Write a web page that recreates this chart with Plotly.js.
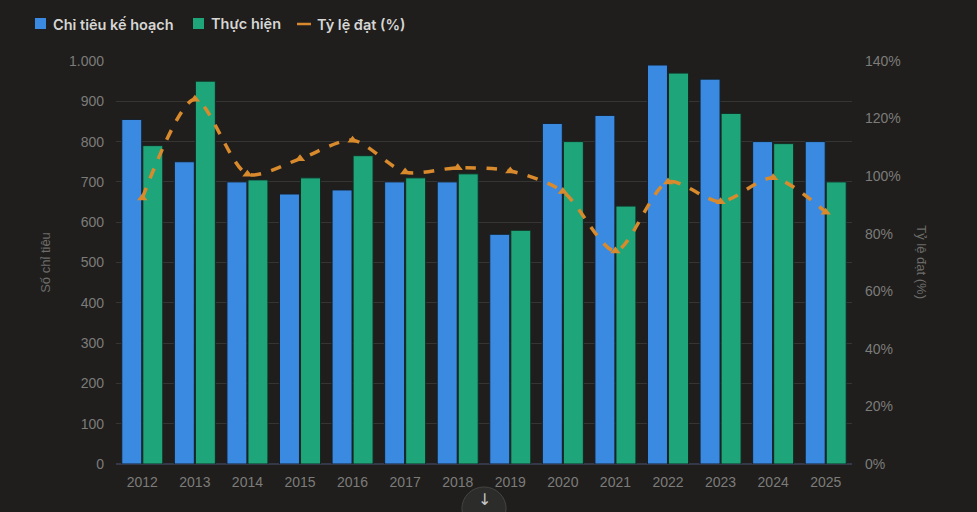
<!DOCTYPE html>
<html>
<head>
<meta charset="utf-8">
<script src="https://cdn.plot.ly/plotly-3.0.1.min.js"></script>
<style>
html,body{margin:0;padding:0;background:#1f1e1c;}
#chart{width:977px;height:512px;}
</style>
</head>
<body>
<div id="chart"></div>
<script>
const years = ['2012','2013','2014','2015','2016','2017','2018','2019','2020','2021','2022','2023','2024','2025'];
const planned = [855, 750, 700, 670, 680, 700, 700, 570, 845, 865, 990, 955, 800, 800];
const actual = [790, 950, 705, 710, 765, 710, 720, 580, 800, 640, 970, 870, 795, 700];
const ratePct = [92.4, 126.7, 100.7, 106.0, 112.5, 101.4, 102.9, 101.8, 94.7, 74.0, 98.0, 91.1, 99.4, 87.5];
const seriesNames = ['Chỉ tiêu kế hoạch', 'Thực hiện', 'Tỷ lệ đạt (%)'];
const colors = ['#3a8ae2', '#1fa57a', '#d98a2c'];
const leftTitle = 'Số chỉ tiêu';
const rightTitle = 'Tỷ lệ đạt (%)';

const tickFont = {family: 'Liberation Sans, Arial, sans-serif', size: 14, color: '#7c7c7a'};
const titleFont = {family: 'Liberation Sans, Arial, sans-serif', size: 13, color: '#6c6c6a'};
const legendFont = {family: 'Inter, Noto Sans, sans-serif', size: 14.5, color: '#d6d6d4', weight: 600};

const data = [
  {type: 'bar', name: seriesNames[0], x: years, y: planned,
   marker: {color: colors[0], line: {color: '#16202a', width: 1}}},
  {type: 'bar', name: seriesNames[1], x: years, y: actual,
   marker: {color: colors[1], line: {color: '#142a22', width: 1}}},
  {type: 'scatter', mode: 'lines+markers', name: seriesNames[2], x: years, y: ratePct, yaxis: 'y2',
   line: {color: colors[2], width: 3.5, dash: 'dash', shape: 'spline', smoothing: 0.8},
   marker: {symbol: 'triangle-up', size: 9, color: colors[2]}}
];

// manual legend (paper coords relative to plot domain 116..852 x, 61..464 y)
const legY = 1.0918;
const layout = {
  width: 977, height: 512,
  paper_bgcolor: '#1f1e1c', plot_bgcolor: '#1f1e1c',
  separators: ',.',
  margin: {l: 116, r: 125, t: 61, b: 48},
  barmode: 'group', bargap: 0.2, bargroupgap: 0.05,
  showlegend: false,
  xaxis: {type: 'category', range: [-0.5, 13.5], tickfont: tickFont, showgrid: false, zeroline: false, showline: false, ticks: '', ticklabelstandoff: 8},
  yaxis: {range: [0, 1000], dtick: 100, tickformat: ',d', tickfont: tickFont,
          gridcolor: '#353533', gridwidth: 1, zeroline: true, zerolinecolor: '#343848', zerolinewidth: 2,
          showline: false, ticks: '', ticklabelstandoff: 11,
          title: {text: leftTitle, font: titleFont, standoff: 15}},
  yaxis2: {range: [0, 140], dtick: 20, ticksuffix: '%', overlaying: 'y', side: 'right', showgrid: false,
           zeroline: false, tickfont: tickFont, ticks: '', ticklabelstandoff: 12},
  annotations: [
    {text: rightTitle, xref: 'paper', yref: 'paper', x: 1.094, y: 0.5, textangle: 90, showarrow: false,
     font: titleFont, xanchor: 'center', yanchor: 'middle'},
    {text: seriesNames[0], xref: 'paper', yref: 'paper', x: -0.088, y: legY, xanchor: 'left', yanchor: 'middle', showarrow: false, font: legendFont},
    {text: seriesNames[1], xref: 'paper', yref: 'paper', x: 0.1265, y: legY, xanchor: 'left', yanchor: 'middle', showarrow: false, font: legendFont},
    {text: seriesNames[2], xref: 'paper', yref: 'paper', x: 0.2705, y: legY, xanchor: 'left', yanchor: 'middle', showarrow: false, font: legendFont},
    {text: '↓', xref: 'paper', yref: 'paper', x: 0.5, y: -0.088, showarrow: false,
     font: {family: 'DejaVu Sans, sans-serif', size: 16, color: '#c8c8c8'}, xanchor: 'center', yanchor: 'middle'}
  ],
  shapes: [
    {type: 'rect', xref: 'paper', yref: 'paper', x0: -0.1101, x1: -0.0951, y0: 1.0794, y1: 1.1067,
     fillcolor: colors[0], line: {width: 0}},
    {type: 'rect', xref: 'paper', yref: 'paper', x0: 0.1046, x1: 0.1196, y0: 1.0794, y1: 1.1067,
     fillcolor: colors[1], line: {width: 0}},
    {type: 'line', xref: 'paper', yref: 'paper', x0: 0.2459, x1: 0.2649, y0: legY, y1: legY,
     line: {color: colors[2], width: 2.5}},
    {type: 'circle', xref: 'paper', yref: 'paper', x0: 0.470, x1: 0.530, y0: -0.164, y1: -0.057,
     fillcolor: '#2c2c2b', line: {color: '#444443', width: 1}, layer: 'above'}
  ]
};

Plotly.newPlot('chart', data, layout, {displayModeBar: false, staticPlot: true});
</script>
</body>
</html>
